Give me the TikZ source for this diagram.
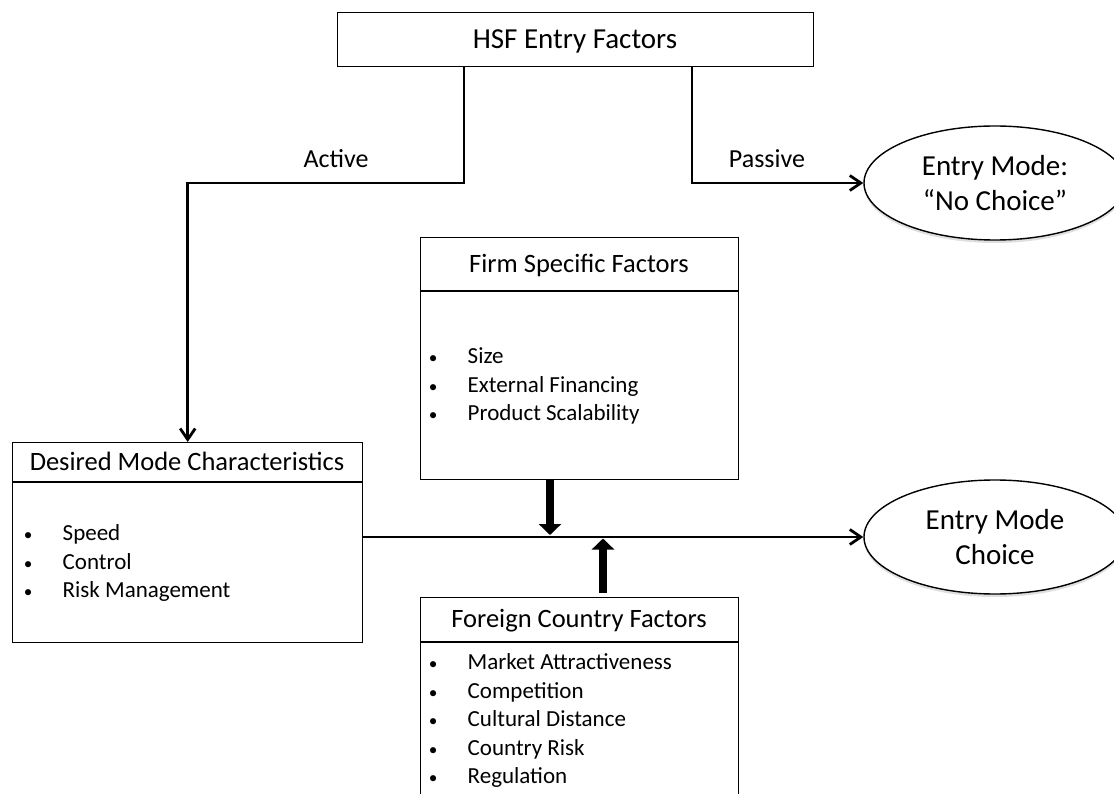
\documentclass[tikz,border=0pt]{standalone}
\usepackage{fontspec}
\setmainfont{Carlito}
\usetikzlibrary{arrows.meta,shapes.geometric,shadows}

\newcommand{\bul}[1]{\makebox[0pt]{\scalebox{0.75}{\textbullet}}\hspace{34.5pt}#1}

\tikzset{
  facbox/.style={draw, line width=1.4pt, inner sep=0pt, anchor=north west},
  hdtext/.style={font=\fontsize{26.5}{32}\selectfont, anchor=base, inner sep=0pt},
  listitem/.style={font=\fontsize{23}{28}\selectfont, anchor=base west, inner sep=0pt},
  edgelabel/.style={font=\fontsize{26}{32}\selectfont, anchor=base, inner sep=0pt},
  modeoval/.style={ellipse, draw, line width=1.4pt, fill=white, minimum width=262pt,
    minimum height=114pt, inner sep=0pt, align=center, font=\fontsize{29}{35.5}\selectfont,
    drop shadow={opacity=0.25, shadow xshift=0pt, shadow yshift=-3pt}},
  flow/.style={line width=2.8pt, -{Straight Barb[length=11pt,width=15pt]}},
  fatarrow/.style={line width=8.5pt, -{Triangle[length=11pt,width=22pt]}}
}

\begin{document}
\begin{tikzpicture}[x=1pt, y=-1pt]
\useasboundingbox (0,0) rectangle (1114,794);
% boxes
\node[facbox, minimum width=476pt, minimum height=54pt] (hsf) at (337,12) {};
\node[facbox, minimum width=350pt, minimum height=200pt] (desired) at (12,442) {};
\node[facbox, minimum width=318pt, minimum height=242pt] (firm) at (420,237) {};
\node[facbox, minimum width=318pt, minimum height=230pt] (foreign) at (420,597) {};
% header rules
\draw[line width=1.4pt] ([yshift=-40pt]desired.north west) -- ([yshift=-40pt]desired.north east);
\draw[line width=1.4pt] ([yshift=-54pt]firm.north west) -- ([yshift=-54pt]firm.north east);
\draw[line width=1.4pt] ([yshift=-45pt]foreign.north west) -- ([yshift=-45pt]foreign.north east);
% ovals
\node[modeoval] (nochoice) at (995,183) {Entry Mode:\\“No Choice”};
\node[modeoval] (choice) at (995,537) {Entry Mode\\Choice};
% titles
\node[hdtext, font=\fontsize{29}{35}\selectfont] (hsfTitle) at (575,48.5) {HSF Entry Factors};
\node[hdtext] (dmTitle) at (187,470.5) {Desired Mode Characteristics};
\node[hdtext] (fsTitle) at (579,272.5) {Firm Specific Factors};
\node[hdtext] (fcTitle) at (579,627.5) {Foreign Country Factors};
% lists
\node[listitem] (dm1) at (28,540.5) {\bul{Speed}};
\node[listitem] (dm2) at (28,569) {\bul{Control}};
\node[listitem] (dm3) at (28,597.5) {\bul{Risk Management}};
\node[listitem] (fs1) at (433,363.5) {\bul{Size}};
\node[listitem] (fs2) at (433,392) {\bul{External Financing}};
\node[listitem] (fs3) at (433,420.5) {\bul{Product Scalability}};
\node[listitem] (fc1) at (433,669.5) {\bul{Market Attractiveness}};
\node[listitem] (fc2) at (433,698) {\bul{Competition}};
\node[listitem] (fc3) at (433,726.5) {\bul{Cultural Distance}};
\node[listitem] (fc4) at (433,755) {\bul{Country Risk}};
\node[listitem] (fc5) at (433,783.5) {\bul{Regulation}};
% connectors
\coordinate (actTurn) at (464,183);
\coordinate (pasTurn) at (692,183);
\draw[flow] (hsf.south -| actTurn) -- (actTurn) -| (desired.north);
\draw[flow] (hsf.south -| pasTurn) -- (pasTurn) -- (nochoice.west);
\draw[flow] (desired.east |- choice.west) -- (choice.west);
\node[edgelabel] (activeLbl) at (336,168) {Active};
\node[edgelabel] (passiveLbl) at (767,168) {Passive};
% influences
\coordinate (fsIn) at (550,535);
\coordinate (fcIn) at (603,538.5);
\draw[fatarrow] (firm.south -| fsIn) -- (fsIn);
\draw[fatarrow, shorten <=4pt] (foreign.north -| fcIn) -- (fcIn);
\end{tikzpicture}
\end{document}
